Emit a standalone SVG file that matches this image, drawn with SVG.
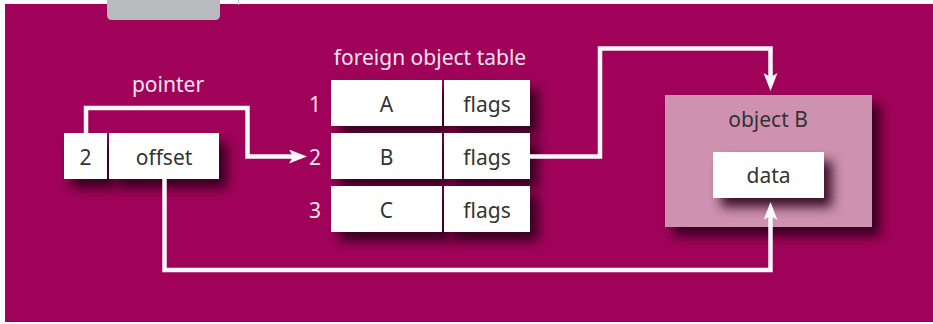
<svg xmlns="http://www.w3.org/2000/svg" width="933" height="324" viewBox="0 0 933 324">
  <style>
    .lbl { font-family: "Noto Sans", "DejaVu Sans", sans-serif; font-size: 21px; fill: #f6e4ee; text-anchor: middle; }
    .txt { font-family: "Noto Sans", "DejaVu Sans", sans-serif; font-size: 21px; fill: #333333; text-anchor: middle; }
    .cell { fill: #ffffff; filter: url(#shadow); }
    .conn { fill: none; stroke: #fdf6fa; stroke-width: 4.5; stroke-linejoin: miter; }
  </style>
  <defs>
    <filter id="shadow" x="-30%" y="-30%" width="170%" height="180%">
      <feDropShadow dx="8" dy="9" stdDeviation="6" flood-color="#2a0018" flood-opacity="0.9"/>
    </filter>
    <marker id="arrow" markerUnits="userSpaceOnUse" viewBox="0 0 18 14" markerWidth="18" markerHeight="14" refX="4" refY="7" orient="auto">
      <path d="M0,0 L18,7 L0,14 L4,7 z" fill="#fdf6fa"/>
    </marker>
  </defs>

  <rect x="5" y="4" width="928" height="318" fill="#a0025a"/>
  <path d="M107,0 H220 V15 Q220,20 215,20 H112 Q107,20 107,15 Z" fill="#b9babd"/>
  <line x1="238.5" y1="0" x2="238.5" y2="5" stroke="#9a9a9a" stroke-width="1" stroke-dasharray="1,1"/>

  <g id="pointer">
    <text class="lbl" x="168" y="92">pointer</text>
    <rect class="cell" x="64" y="133" width="43" height="46"/>
    <rect class="cell" x="109" y="133" width="110" height="46"/>
    <text class="txt" x="85.5" y="164.5">2</text>
    <text class="txt" x="164" y="164.5">offset</text>
  </g>

  <g id="table">
    <text class="lbl" x="430" y="65">foreign object table</text>
    <text class="lbl" x="315" y="111.5">1</text>
    <text class="lbl" x="315" y="164.5">2</text>
    <text class="lbl" x="315" y="217.5">3</text>
    <rect class="cell" x="331" y="80" width="111" height="46"/>
    <rect class="cell" x="444" y="80" width="86" height="46"/>
    <rect class="cell" x="331" y="133" width="111" height="46"/>
    <rect class="cell" x="444" y="133" width="86" height="46"/>
    <rect class="cell" x="331" y="186" width="111" height="46"/>
    <rect class="cell" x="444" y="186" width="86" height="46"/>
    <text class="txt" x="386.5" y="111.5">A</text>
    <text class="txt" x="487" y="111.5">flags</text>
    <text class="txt" x="386.5" y="164.5">B</text>
    <text class="txt" x="487" y="164.5">flags</text>
    <text class="txt" x="386.5" y="217.5">C</text>
    <text class="txt" x="487" y="217.5">flags</text>
  </g>

  <g id="objectB">
    <rect x="665" y="95" width="207" height="132" fill="#cf91b0" filter="url(#shadow)"/>
    <text class="txt" x="768" y="127">object B</text>
    <rect class="cell" x="713" y="152" width="111" height="46"/>
    <text class="txt" x="768.5" y="183">data</text>
  </g>

  <g id="connectors">
    <path class="conn" d="M86,133 V108 H247.5 V156.5 H293" marker-end="url(#arrow)"/>
    <path class="conn" d="M530,156.5 H600 V48.5 H770.5 V77" marker-end="url(#arrow)"/>
    <path class="conn" d="M164.5,179 V270 H770.5 V216" marker-end="url(#arrow)"/>
  </g>
</svg>
